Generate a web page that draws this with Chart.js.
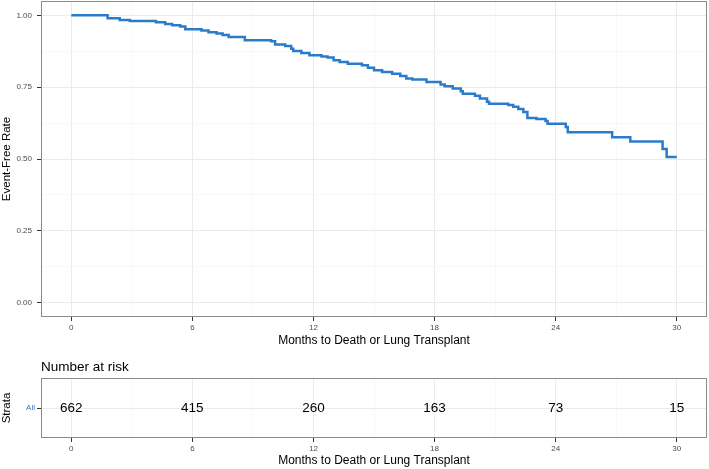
<!DOCTYPE html>
<html>
<head>
<meta charset="utf-8">
<script src="https://cdn.jsdelivr.net/npm/chart.js@4"></script>
<style>
  html, body { margin: 0; padding: 0; background: #fff; }
  #wrap { position: relative; width: 709px; height: 469px; }
  canvas { position: absolute; left: 0; }
  #km { top: 0; }
  #risk { top: 350px; }
</style>
</head>
<body>
<div id="wrap">
  <canvas id="km" width="709" height="350"></canvas>
  <canvas id="risk" width="709" height="119"></canvas>
</div>
<script>
// ── data ──
const TIME = [0, 1.8, 2.4, 2.9, 4.2, 4.65, 5.0, 5.4, 5.65, 6.45, 6.8, 7.2, 7.5, 7.8, 8.6,
  9.9, 10.1, 10.6, 10.9, 11.0, 11.4, 11.8, 12.4, 12.7, 13.0, 13.3, 13.7, 14.4, 14.7, 15.0,
  15.4, 15.9, 16.3, 16.6, 16.9, 17.6, 18.3, 18.5, 18.9, 19.3, 19.4, 20.0, 20.25, 20.6, 20.7,
  21.65, 21.9, 22.15, 22.4, 22.6, 23.05, 23.5, 23.6, 24.5, 24.6, 26.8, 27.7, 29.3, 29.5, 30.0];
const SURV = [1.000, 0.990, 0.984, 0.980, 0.976, 0.970, 0.966, 0.961, 0.952, 0.947, 0.941, 0.937, 0.932, 0.925, 0.913,
  0.910, 0.899, 0.893, 0.884, 0.876, 0.869, 0.861, 0.857, 0.853, 0.844, 0.838, 0.832, 0.826, 0.818, 0.809,
  0.803, 0.797, 0.789, 0.780, 0.777, 0.768, 0.759, 0.753, 0.745, 0.736, 0.727, 0.720, 0.711, 0.699, 0.692,
  0.688, 0.682, 0.674, 0.664, 0.643, 0.639, 0.632, 0.623, 0.611, 0.593, 0.576, 0.561, 0.535, 0.507, 0.507];

const X_MAJOR = [0, 6, 12, 18, 24, 30];
const X_GRID = [0, 3, 6, 9, 12, 15, 18, 21, 24, 27, 30];
const Y_MAJOR = [0, 0.25, 0.5, 0.75, 1];
const Y_GRID = [0, 0.125, 0.25, 0.375, 0.5, 0.625, 0.75, 0.875, 1];

const RISK_TIMES = [0, 6, 12, 18, 24, 30];
const RISK_ALL = [662, 415, 260, 163, 73, 15];

const BLUE = '#2B7BCB';
const TICK_TXT = '#4D4D4D';
const FONT = "'Liberation Sans', Arial, Helvetica, sans-serif";
Chart.defaults.font.family = FONT;

// ── helpers ──
const isIn = (arr, v) => arr.some(a => Math.abs(a - v) < 1e-9);

function gridOpts(major) {
    return {
        color: c => isIn(major, c.tick.value) ? '#EBEBEB' : '#F3F3F3',
        lineWidth: c => isIn(major, c.tick.value) ? 1 : 0.6,
        tickColor: c => isIn(major, c.tick.value) ? '#333333' : 'rgba(0,0,0,0)',
        tickLength: 4,
    };
}

// fixed axis box size, no extra label overflow padding
function fixSize(w, h) {
    return s => {
        if (w != null) s.width = w;
        if (h != null) s.height = h;
        s.paddingTop = 0; s.paddingBottom = 0;
        s.paddingLeft = 0; s.paddingRight = 0;
    };
}

// panel border round the chart area
const panelBox = {
    id: 'panelBox',
    afterDraw(chart) {
        const { ctx, chartArea: a } = chart;
        ctx.save();
        ctx.strokeStyle = '#8A8A8A';
        ctx.lineWidth = 1;
        ctx.strokeRect(Math.round(a.left) + 0.5, Math.round(a.top) + 0.5,
            Math.round(a.right - a.left) - 1, Math.round(a.bottom - a.top) - 1);
        ctx.restore();
    }
};

// ── survival curve ──
new Chart(document.getElementById('km'), {
    type: 'line',
    data: {
        datasets: [{
            data: TIME.map((t, i) => ({ x: t, y: SURV[i] })),
            borderColor: BLUE,
            borderWidth: 2.5,
            stepped: 'before',
            pointRadius: 0,
            fill: false,
        }]
    },
    options: {
        responsive: false,
        animation: false,
        events: [],
        layout: { padding: { top: 1, right: 2, left: 0, bottom: 0 } },
        plugins: { legend: { display: false }, tooltip: { enabled: false } },
        scales: {
            x: {
                type: 'linear', min: -1.5, max: 31.5,
                afterBuildTicks: s => { s.ticks = X_GRID.map(v => ({ value: v })); },
                afterFit: fixSize(null, 33),
                ticks: {
                    autoSkip: false, maxRotation: 0, padding: 2, color: TICK_TXT,
                    font: { size: 8 },
                    callback: v => isIn(X_MAJOR, v) ? String(v) : ''
                },
                grid: gridOpts(X_MAJOR),
                border: { display: false },
                title: {
                    display: true, text: 'Months to Death or Lung Transplant',
                    color: '#000', font: { size: 12 }, padding: { top: 0, bottom: 1.8 }
                }
            },
            y: {
                type: 'linear', min: -0.05, max: 1.05,
                afterBuildTicks: s => { s.ticks = Y_GRID.map(v => ({ value: v })); },
                afterFit: fixSize(41, null),
                ticks: {
                    autoSkip: false, padding: 5, color: TICK_TXT,
                    font: { size: 8 },
                    callback: v => isIn(Y_MAJOR, v) ? v.toFixed(2) : ''
                },
                grid: gridOpts(Y_MAJOR),
                border: { display: false },
                title: {
                    display: true, text: 'Event-Free Rate',
                    color: '#000', font: { size: 11.5 }, padding: { top: 0, bottom: 0 }
                }
            }
        }
    },
    plugins: [panelBox]
});

// ── number at risk table ──
const riskLabels = {
    id: 'riskLabels',
    afterDatasetsDraw(chart) {
        const { ctx, scales: { x, y } } = chart;
        ctx.save();
        ctx.fillStyle = '#000';
        ctx.font = '13.5px ' + FONT;
        ctx.textAlign = 'center';
        ctx.textBaseline = 'middle';
        chart.data.datasets[0].data.forEach((p, i) => {
            ctx.fillText(String(RISK_ALL[i]), x.getPixelForValue(p.x), y.getPixelForValue(p.y));
        });
        ctx.restore();
    }
};

new Chart(document.getElementById('risk'), {
    type: 'scatter',
    data: {
        datasets: [{
            data: RISK_TIMES.map(t => ({ x: t, y: 1 })),
            pointRadius: 0,
            showLine: false,
        }]
    },
    options: {
        responsive: false,
        animation: false,
        events: [],
        layout: { padding: { top: 0, right: 2, left: 0, bottom: 0 } },
        plugins: {
            legend: { display: false },
            tooltip: { enabled: false },
            title: {
                display: true, text: 'Number at risk', align: 'start', fullSize: false,
                color: '#000', font: { size: 13.5, weight: 'normal' },
                padding: { top: 8.9, bottom: 2.9 }
            }
        },
        scales: {
            x: {
                type: 'linear', min: -1.5, max: 31.5,
                afterBuildTicks: s => { s.ticks = X_GRID.map(v => ({ value: v })); },
                afterFit: fixSize(null, 31),
                ticks: {
                    autoSkip: false, maxRotation: 0, padding: 2, color: TICK_TXT,
                    font: { size: 8 },
                    callback: v => isIn(X_MAJOR, v) ? String(v) : ''
                },
                grid: gridOpts(X_MAJOR),
                border: { display: false },
                title: {
                    display: true, text: 'Months to Death or Lung Transplant',
                    color: '#000', font: { size: 12 }, padding: { top: 0, bottom: 0.8 }
                }
            },
            y: {
                type: 'linear', min: 0, max: 2,
                afterBuildTicks: s => { s.ticks = [{ value: 1 }]; },
                afterFit: fixSize(41, null),
                ticks: {
                    padding: 2, color: BLUE, font: { size: 8 },
                    callback: () => 'All'
                },
                grid: gridOpts([1]),
                border: { display: false },
                title: {
                    display: true, text: 'Strata',
                    color: '#000', font: { size: 11.5 }, padding: { top: 0, bottom: 0 }
                }
            }
        }
    },
    plugins: [panelBox, riskLabels]
});
</script>
</body>
</html>
